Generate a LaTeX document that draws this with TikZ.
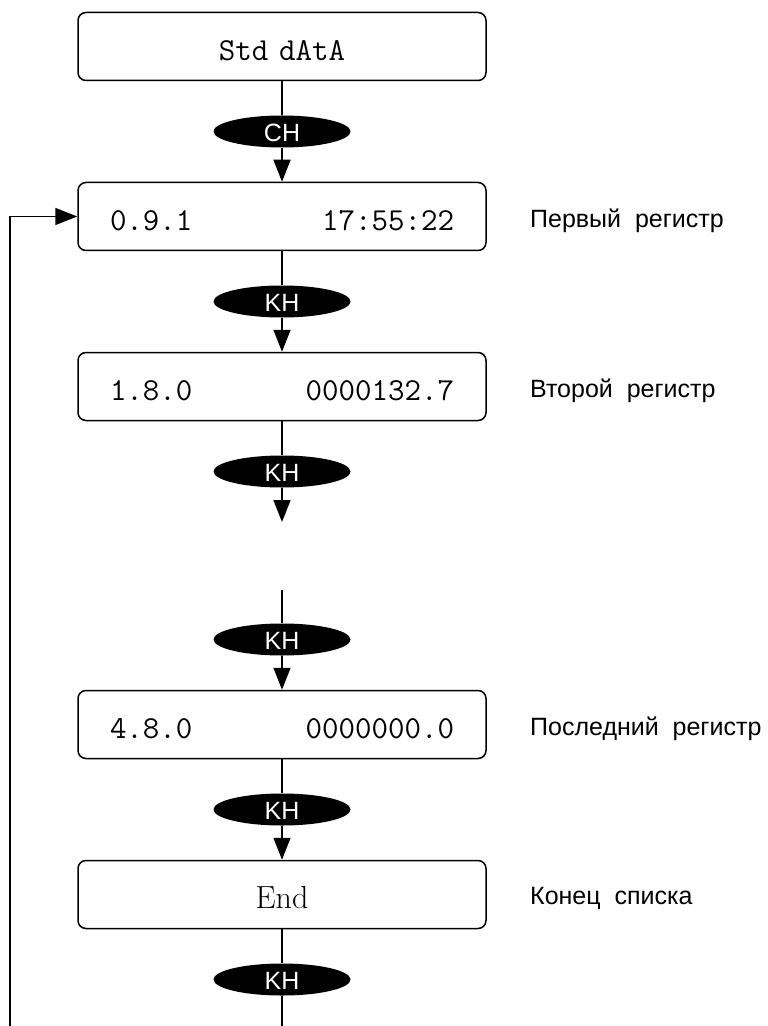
\documentclass[tikz,border=0pt]{standalone}
\usepackage{fontspec}
\newfontfamily\lblfont{Liberation Sans}
\usetikzlibrary{arrows.meta,positioning,shapes}

\begin{document}
\begin{tikzpicture}[x=0.5pt,y=-0.5pt,node distance=42.5pt,>={Triangle[length=11pt,width=8.5pt]},line width=0.75pt]
        \tikzstyle{block} = [draw, rectangle, rounded corners=4pt, minimum width=204pt, minimum height=34pt, inner xsep=16pt, text width=172pt, text height=14pt, text depth=0pt, align=center, font=\fontsize{16}{18}\selectfont\ttfamily]
        \tikzstyle{key} = [ellipse, fill=black, text=white, minimum width=68.5pt, minimum height=16pt, inner sep=0pt, text height=10pt, text depth=0pt, font=\lblfont\fontsize{12.5}{14}\selectfont]
        \tikzstyle{note} = [yshift=-2pt, font=\lblfont\fontsize{12.5}{14}\selectfont]

        \useasboundingbox (0,0) rectangle (767,1026);

        \node [block] (std) at (282,46.5) {Std dAtA};
        \node [key, below of=std] (ch) {CH};
        \node [block, below of=ch] (reg1) {0.9.1\hfill 17:55:22};
        \node [key, below of=reg1] (kh1) {KH};
        \node [block, below of=kh1] (reg2) {1.8.0\hfill 0000132.7};
        \node [key, below of=reg2] (kh2) {KH};
        \coordinate (gapend) at (282,522);
        \coordinate (gapstart) at (282,590);
        \node [block] (reg4) at (282,724.5) {4.8.0\hfill 0000000.0};
        \node [key, above of=reg4] (kh3) {KH};
        \node [key, below of=reg4] (kh4) {KH};
        \node [block, below of=kh4] (fin) {\rmfamily End};
        \node [key, below of=fin] (kh5) {KH};
        \coordinate (tailend) at (282,1026);
        \coordinate (loopfoot) at (10,1026);

        \node [note, right=18pt of reg1] (n1) {Первый\ \ регистр};
        \node [note, right=18pt of reg2] (n2) {Второй\ \ регистр};
        \node [note, right=18pt of reg4] (n4) {Последний\ \ регистр};
        \node [note, right=18pt of fin] (n5) {Конец\ \ списка};

        \draw (std) -- (ch);
        \draw [->] (ch) -- (reg1);
        \draw (reg1) -- (kh1);
        \draw [->] (kh1) -- (reg2);
        \draw (reg2) -- (kh2);
        \draw [->] (kh2) -- (gapend);
        \draw (gapstart) -- (kh3);
        \draw [->] (kh3) -- (reg4);
        \draw (reg4) -- (kh4);
        \draw [->] (kh4) -- (fin);
        \draw (fin) -- (kh5);
        \draw (kh5) -- (tailend);
        \draw [->] (loopfoot) |- (reg1.west);
    \end{tikzpicture}
\end{document}
